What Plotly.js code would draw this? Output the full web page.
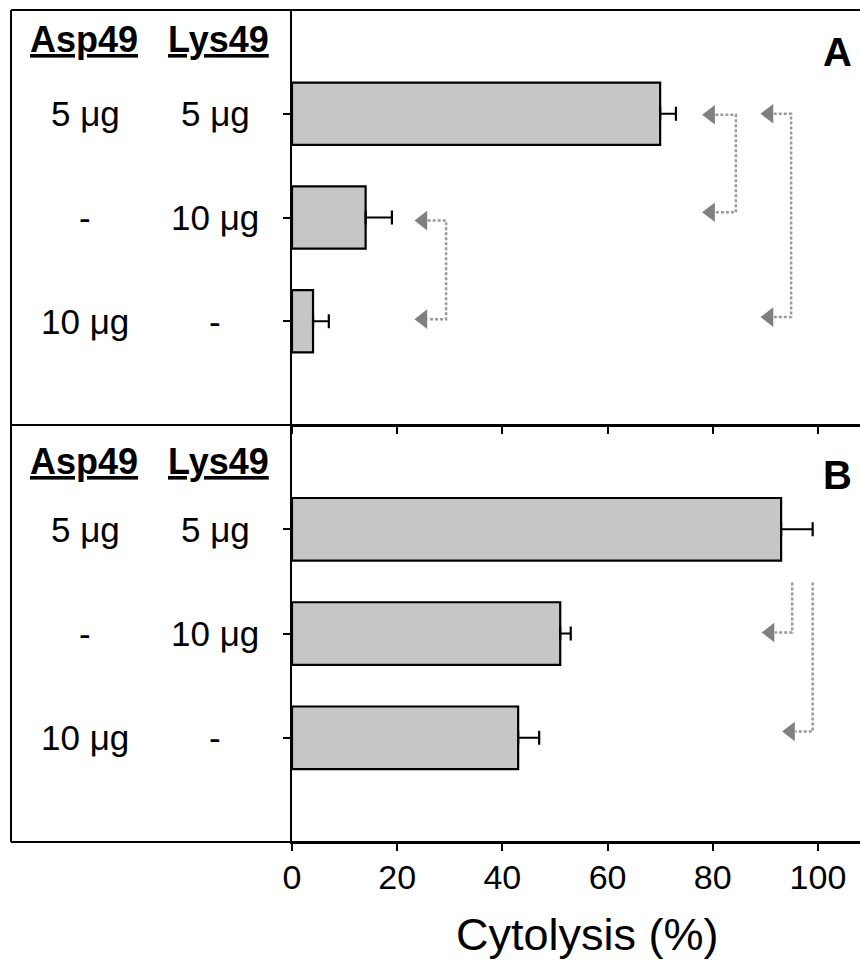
<!DOCTYPE html>
<html>
<head>
<meta charset="utf-8">
<script src="https://cdn.plot.ly/plotly-3.0.1.min.js"></script>
<style>html,body{margin:0;padding:0;background:#fff;}</style>
</head>
<body>
<div id="chart" style="width:860px;height:960px;"></div>
<script>
// ---- data ----
var rowIndex = [0, 1, 2];
var asp49Labels = ["5 \u03bcg", "-", "10 \u03bcg"];
var lys49Labels = ["5 \u03bcg", "10 \u03bcg", "-"];
var cytolysisA = [70, 14, 4];
var errorA = [3, 5, 3];
var cytolysisB = [93, 51, 43];
var errorB = [6, 2, 4];
var xTicks = [0, 20, 40, 60, 80, 100];
var panelLetters = ["A", "B"];

// significance brackets (data units): vertical x, arrow tip x, rows spanned
var bracketsA = [
  {xv: 84.4, tip: 78.1, y0: 0.01, y1: 0.95, topArrow: true},
  {xv: 94.9, tip: 89.2, y0: 0.0,  y1: 1.96, topArrow: true},
  {xv: 29.3, tip: 23.4, y0: 1.03, y1: 1.98, topArrow: true}
];
var bracketsB = [
  {xv: 95.1, tip: 89.4, y0: 0.51, y1: 0.99, topArrow: false},
  {xv: 99.0, tip: 93.3, y0: 0.51, y1: 1.94, topArrow: false}
];

var FONT = "Liberation Sans, Arial, Helvetica, sans-serif";
var BAR_FILL = "#c6c6c6";
var DOT_COLOR = "#9a9a9a";
var ARROW_COLOR = "#808080";

function barTrace(vals, errs, xa, ya) {
  return {
    type: "bar", orientation: "h",
    x: vals, y: rowIndex, width: 0.6,
    xaxis: xa, yaxis: ya,
    marker: {color: BAR_FILL, line: {color: "#000", width: 2.2}},
    error_x: {type: "data", symmetric: false, array: errs, arrayminus: [0, 0, 0],
              color: "#000", thickness: 2.2, width: 7},
    hoverinfo: "skip"
  };
}

var traces = [barTrace(cytolysisA, errorA, "x", "y"), barTrace(cytolysisB, errorB, "x2", "y2")];

function addBrackets(list, xa, ya) {
  list.forEach(function (b) {
    var xs, ys, ax = [], ay = [];
    if (b.topArrow) {
      xs = [b.tip + 2.4, b.xv, b.xv, b.tip + 2.4];
      ys = [b.y0, b.y0, b.y1, b.y1];
      ax = [b.tip + 1.5, b.tip + 1.5]; ay = [b.y0, b.y1];
    } else {
      xs = [b.xv, b.xv, b.tip + 2.4];
      ys = [b.y0, b.y1, b.y1];
      ax = [b.tip + 1.5]; ay = [b.y1];
    }
    traces.push({type: "scatter", mode: "lines", x: xs, y: ys, xaxis: xa, yaxis: ya,
      line: {color: DOT_COLOR, width: 2.5, dash: "3px,2px"}, hoverinfo: "skip"});
    traces.push({type: "scatter", mode: "markers", x: ax, y: ay, xaxis: xa, yaxis: ya,
      marker: {symbol: "triangle-left", size: 17, color: ARROW_COLOR, line: {width: 0}},
      hoverinfo: "skip"});
  });
}
addBrackets(bracketsA, "x", "y");
addBrackets(bracketsB, "x2", "y2");

var SPLIT = (842 - 425) / 832;
var LEFT = (11 - 292) / 568;

function xAxis(anchor, labels) {
  return {
    domain: [0, 1], range: [0, 108], anchor: anchor,
    tickvals: xTicks, ticktext: xTicks.map(String),
    showticklabels: labels, ticks: "outside", ticklen: 7, tickwidth: 2, tickcolor: "#000",
    ticklabelstandoff: -3,
    showline: true, linewidth: 2, linecolor: "#000",
    showgrid: false, zeroline: false, fixedrange: true,
    tickfont: {family: FONT, size: 34, color: "#000"}
  };
}
function yAxis(anchor, domain) {
  return {
    domain: domain, range: [3, -1], anchor: anchor,
    tickvals: rowIndex, showticklabels: false,
    ticks: "outside", ticklen: 7, tickwidth: 2, tickcolor: "#000",
    showline: true, linewidth: 2.2, linecolor: "#000",
    showgrid: false, zeroline: false, fixedrange: true
  };
}

var annotations = [];
function panelText(ya, headerY, letterY, letter) {
  annotations.push({xref: "paper", yref: ya, x: (84 - 292) / 568, y: headerY, text: "<b><u>Asp49</u></b>",
    showarrow: false, xanchor: "center", yanchor: "middle", font: {family: FONT, size: 36, color: "#000"}});
  annotations.push({xref: "paper", yref: ya, x: (218 - 292) / 568, y: headerY, text: "<b><u>Lys49</u></b>",
    showarrow: false, xanchor: "center", yanchor: "middle", font: {family: FONT, size: 36, color: "#000"}});
  rowIndex.forEach(function (r, i) {
    annotations.push({xref: "paper", yref: ya, x: (85 - 292) / 568, y: r, text: asp49Labels[i],
      showarrow: false, xanchor: "center", yanchor: "middle", font: {family: FONT, size: 35, color: "#000"}});
    annotations.push({xref: "paper", yref: ya, x: (215 - 292) / 568, y: r, text: lys49Labels[i],
      showarrow: false, xanchor: "center", yanchor: "middle", font: {family: FONT, size: 35, color: "#000"}});
  });
  annotations.push({xref: "paper", yref: ya, x: (837 - 292) / 568, y: letterY, text: "<b>" + letter + "</b>",
    showarrow: false, xanchor: "center", yanchor: "middle", font: {family: FONT, size: 40, color: "#000"}});
}
panelText("y", -0.72, -0.6, panelLetters[0]);
panelText("y2", -0.65, -0.52, panelLetters[1]);

annotations.push({xref: "paper", yref: "paper", x: (587 - 292) / 568, y: (842 - 934) / 832,
  text: "Cytolysis (%)", showarrow: false, xanchor: "center", yanchor: "middle",
  font: {family: FONT, size: 45, color: "#000"}});

var frame = {color: "#000", width: 2};
var shapes = [
  {type: "line", xref: "paper", yref: "paper", x0: LEFT, x1: LEFT, y0: 0, y1: 1, line: frame},
  {type: "line", xref: "paper", yref: "paper", x0: LEFT, x1: 1, y0: 1, y1: 1, line: frame},
  {type: "line", xref: "paper", yref: "paper", x0: LEFT, x1: 1, y0: SPLIT, y1: SPLIT, line: frame},
  {type: "line", xref: "paper", yref: "paper", x0: LEFT, x1: 1, y0: 0, y1: 0, line: frame}
];

var layout = {
  width: 860, height: 960,
  margin: {l: 292, r: 0, t: 10, b: 118, pad: 0},
  paper_bgcolor: "#fff", plot_bgcolor: "#fff",
  showlegend: false,
  font: {family: FONT, color: "#000"},
  xaxis: xAxis("y", false),
  yaxis: yAxis("x", [SPLIT, 1]),
  xaxis2: xAxis("y2", true),
  yaxis2: yAxis("x2", [0, SPLIT]),
  annotations: annotations,
  shapes: shapes,
  bargap: 0.4
};

Plotly.newPlot("chart", traces, layout, {displayModeBar: false, staticPlot: true});
</script>
</body>
</html>
